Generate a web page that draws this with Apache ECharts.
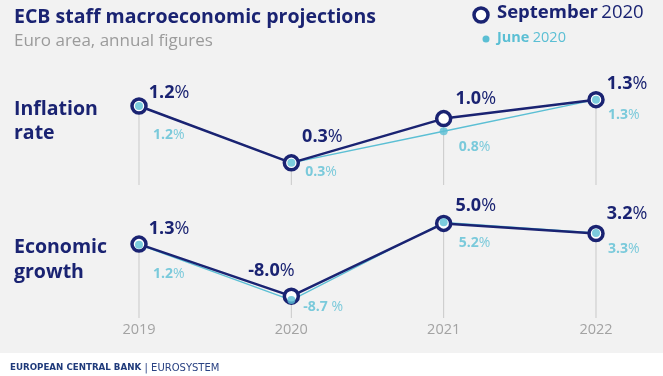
<!DOCTYPE html>
<html>
<head>
<meta charset="utf-8">
<script src="https://cdn.jsdelivr.net/npm/echarts@6/dist/echarts.min.js"></script>
<style>
  html, body { margin: 0; padding: 0; background: #f2f2f2; }
  #chart { width: 663px; height: 376px; }
</style>
</head>
<body>
<div id="chart"></div>
<script>
// values
var years = ["2019", "2020", "2021", "2022"];
var inflationSep = [1.2, 0.3, 1.0, 1.3];
var inflationJun = [1.2, 0.3, 0.8, 1.3];
var growthSep = [1.3, -8.0, 5.0, 3.2];
var growthJun = [1.2, -8.7, 5.2, 3.3];

var NAVY = "#1a2372";
var TEAL = "#5bbfd4";
var GRID_LINE = "#c9c9c9";
var FONT = "Open Sans";

// label placement per point: [position, dx, dy]
var sepLabelPos = [
  [["right", 1, -13], ["right", 2, -26], ["right", 3, -20], ["right", 2, -16]],
  [["right", 1, -15], ["left", 12, -25], ["right", 3, -18], ["right", 2, -20]]
];
var junLabelPos = [
  [["right", 10, 29], ["right", 10, 9], ["right", 11, 16], ["right", 8, 15]],
  [["right", 10, 29], ["right", 8, 7], ["right", 11, 21], ["right", 8, 16]]
];

function pct(v, spaced) {
  return "{b|" + v.toFixed(1) + "}{n|" + (spaced ? " %" : "%") + "}";
}

function pointData(values, pos, junGap) {
  return values.map(function (v, i) {
    var p = pos[i];
    return {
      value: v,
      label: {
        position: p[0],
        offset: [p[1], p[2]],
        formatter: pct(v, junGap && i === 1)
      }
    };
  });
}

function labelRich(size, color) {
  return {
    b: { fontFamily: FONT, fontWeight: "bold", fontSize: size, color: color },
    n: { fontFamily: FONT, fontWeight: "normal", fontSize: size, color: color }
  };
}

function panelSeries(idx, sep, jun) {
  return [
    {
      type: "custom",
      xAxisIndex: idx,
      yAxisIndex: idx,
      z: 1,
      silent: true,
      data: sep.map(function (v, i) { return [i, v]; }),
      renderItem: function (params, api) {
        var top = api.coord([api.value(0), api.value(1)]);
        var cs = params.coordSys;
        return {
          type: "line",
          shape: { x1: top[0], y1: top[1], x2: top[0], y2: cs.y + cs.height },
          style: { stroke: GRID_LINE, lineWidth: 1 }
        };
      }
    },
    {
      type: "line",
      xAxisIndex: idx,
      yAxisIndex: idx,
      z: 2,
      data: jun,
      showSymbol: false,
      lineStyle: { color: TEAL, width: 1.3 }
    },
    {
      type: "line",
      xAxisIndex: idx,
      yAxisIndex: idx,
      z: 3,
      data: pointData(sep, sepLabelPos[idx], false),
      symbol: "circle",
      symbolSize: 14,
      lineStyle: { color: NAVY, width: 2.5 },
      itemStyle: { color: "#ffffff", borderColor: NAVY, borderWidth: 3.5 },
      label: { show: true, distance: 0, rich: labelRich(18, NAVY) }
    },
    {
      type: "scatter",
      xAxisIndex: idx,
      yAxisIndex: idx,
      z: 4,
      data: pointData(jun, junLabelPos[idx], idx === 1),
      symbol: "circle",
      symbolSize: 8,
      itemStyle: { color: TEAL },
      label: { show: true, distance: 0, rich: labelRich(14, TEAL) }
    }
  ];
}

var chart = echarts.init(document.getElementById("chart"));

var option = {
  backgroundColor: "#f2f2f2",
  animation: false,
  textStyle: { fontFamily: FONT },
  title: [
    {
      text: "ECB staff macroeconomic projections",
      subtext: "Euro area, annual figures",
      left: 9,
      top: 2,
      itemGap: 6,
      textStyle: { fontFamily: FONT, fontWeight: "bold", fontSize: 19.5, color: NAVY },
      subtextStyle: { fontFamily: FONT, fontSize: 17, color: "#9b9b9b" }
    },
    {
      text: "Inflation\nrate",
      left: 9,
      top: 92,
      textStyle: { fontFamily: FONT, fontWeight: "bold", fontSize: 19.5, lineHeight: 24, color: NAVY }
    },
    {
      text: "Economic\ngrowth",
      left: 9,
      top: 230,
      textStyle: { fontFamily: FONT, fontWeight: "bold", fontSize: 19.5, lineHeight: 25, color: NAVY }
    }
  ],
  graphic: [
    {
      type: "rect",
      shape: { x: 0, y: 353, width: 663, height: 23 },
      style: { fill: "#ffffff" },
      silent: true
    },
    {
      type: "text",
      x: 10,
      y: 362,
      style: {
        text: "{b|EUROPEAN CENTRAL BANK} {n|| EUROSYSTEM}",
        rich: {
          b: { fontFamily: "DejaVu Sans", fontWeight: "bold", fontSize: 8.7, fill: "#1f3a7a" },
          n: { fontFamily: "DejaVu Sans", fontSize: 10, fill: "#2a4283" }
        }
      }
    },
    // legend
    {
      type: "circle",
      shape: { cx: 481, cy: 15, r: 7 },
      style: { fill: "#ffffff", stroke: NAVY, lineWidth: 3.5 }
    },
    {
      type: "text",
      x: 497,
      y: 3,
      style: {
        text: "{b|September} {n|2020}",
        rich: {
          b: { fontFamily: FONT, fontWeight: "bold", fontSize: 18.5, fill: NAVY },
          n: { fontFamily: FONT, fontSize: 18.5, fill: NAVY }
        }
      }
    },
    {
      type: "circle",
      shape: { cx: 486, cy: 39, r: 3.5 },
      style: { fill: TEAL }
    },
    {
      type: "text",
      x: 497,
      y: 30,
      style: {
        text: "{b|June} {n|2020}",
        rich: {
          b: { fontFamily: FONT, fontWeight: "bold", fontSize: 14.5, fill: TEAL },
          n: { fontFamily: FONT, fontSize: 14.5, fill: TEAL }
        }
      }
    }
  ],
  grid: [
    { left: 139, right: 67, top: 87, height: 98 },
    { left: 139, right: 67, top: 215, height: 103 }
  ],
  xAxis: [
    {
      gridIndex: 0,
      type: "category",
      data: years,
      boundaryGap: false,
      show: false
    },
    {
      gridIndex: 1,
      type: "category",
      data: years,
      boundaryGap: false,
      axisLine: { show: false },
      axisTick: { show: false },
      axisLabel: { margin: 4, fontFamily: FONT, fontSize: 14.5, color: "#a3a3a3" }
    }
  ],
  yAxis: [
    { gridIndex: 0, type: "value", min: -0.05, max: 1.5, show: false },
    { gridIndex: 1, type: "value", min: -11.9, max: 6.5, show: false }
  ],
  series: panelSeries(0, inflationSep, inflationJun).concat(
    panelSeries(1, growthSep, growthJun)
  )
};

option && chart.setOption(option);
</script>
</body>
</html>
